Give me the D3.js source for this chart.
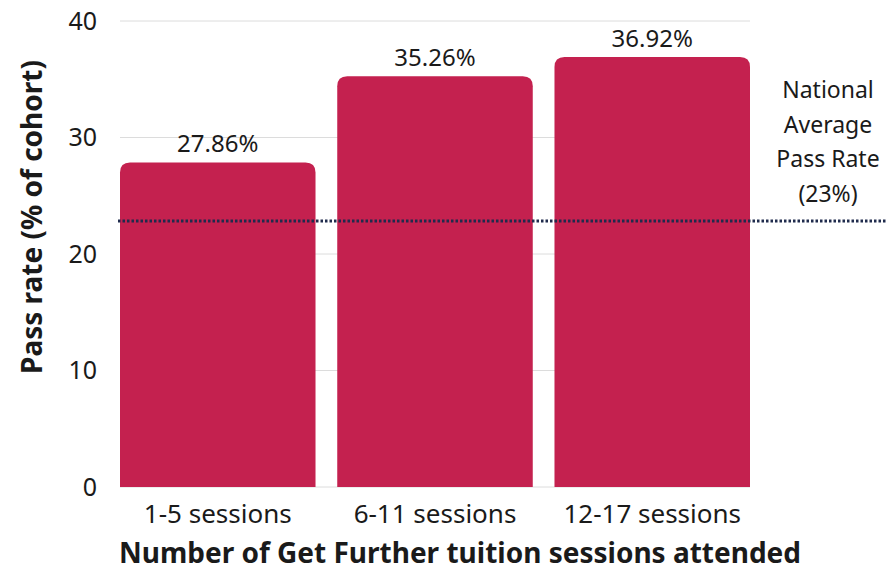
<!DOCTYPE html>
<html>
<head>
<meta charset="utf-8">
<script src="https://cdn.jsdelivr.net/npm/d3@7"></script>
<style>
  body { margin: 0; background: #fff; }
  text { font-family: "Noto Sans", "Open Sans", sans-serif; fill: #1a1a1a; }
</style>
</head>
<body>
<svg id="chart" width="886" height="576"></svg>
<script>
var categories = ['1-5 sessions', '6-11 sessions', '12-17 sessions'];
var passRates = [27.86, 35.26, 36.92];
var yTicks = [0, 10, 20, 30, 40];
var nationalAverage = 23;
var averageLabel = ['National', 'Average', 'Pass Rate', '(23%)'];

var svg = d3.select('#chart');
var margin = { top: 21, left: 120, plotRight: 750, bottom: 487 };

// scales
var x = d3.scaleBand()
    .domain(categories)
    .range([margin.left, margin.plotRight])
    .paddingInner(0.1)
    .paddingOuter(0);
var y = d3.scaleLinear()
    .domain([0, 40])
    .range([margin.bottom, margin.top]);

// gridlines
svg.append('g').selectAll('line')
    .data(yTicks)
    .enter().append('line')
    .attr('x1', margin.left)
    .attr('x2', margin.plotRight)
    .attr('y1', function (d) { return y(d); })
    .attr('y2', function (d) { return y(d); })
    .attr('stroke', '#dcdcdc')
    .attr('stroke-width', 1);

// y tick labels
svg.append('g').selectAll('text')
    .data(yTicks)
    .enter().append('text')
    .attr('x', 97)
    .attr('y', function (d) { return y(d); })
    .attr('dy', '0.35em')
    .attr('text-anchor', 'end')
    .style('font-size', '25px')
    .text(function (d) { return d; });

// bars with rounded tops
var r = 10;
function barPath(d, i) {
    var x0 = x(categories[i]), w = x.bandwidth();
    var top = y(d), bot = y(0);
    return 'M' + x0 + ',' + bot +
        'V' + (top + r) +
        'Q' + x0 + ',' + top + ',' + (x0 + r) + ',' + top +
        'H' + (x0 + w - r) +
        'Q' + (x0 + w) + ',' + top + ',' + (x0 + w) + ',' + (top + r) +
        'V' + bot + 'Z';
}
svg.append('g').selectAll('path')
    .data(passRates)
    .enter().append('path')
    .attr('d', barPath)
    .attr('fill', '#c4214f');

// value labels
svg.append('g').selectAll('text')
    .data(passRates)
    .enter().append('text')
    .attr('x', function (d, i) { return x(categories[i]) + x.bandwidth() / 2; })
    .attr('y', function (d) { return y(d) - 10; })
    .attr('text-anchor', 'middle')
    .style('font-size', '24px')
    .text(function (d) { return d.toFixed(2) + '%'; });

// national average line
svg.append('line')
    .attr('x1', margin.left - 2)
    .attr('x2', 886)
    .attr('y1', y(nationalAverage) + 2)
    .attr('y2', y(nationalAverage) + 2)
    .attr('stroke', '#1f2b4d')
    .attr('stroke-width', 3)
    .attr('stroke-dasharray', '2.5,2');

svg.append('text')
    .attr('text-anchor', 'middle')
    .style('font-size', '23px')
    .selectAll('tspan')
    .data(averageLabel)
    .enter().append('tspan')
    .attr('x', 828)
    .attr('y', function (d, i) { return 98 + i * 34.5; })
    .text(function (d) { return d; });

// x category labels
svg.append('g').selectAll('text')
    .data(categories)
    .enter().append('text')
    .attr('x', function (d) { return x(d) + x.bandwidth() / 2; })
    .attr('y', 523)
    .attr('text-anchor', 'middle')
    .style('font-size', '26px')
    .text(function (d) { return d; });

// axis titles
svg.append('text')
    .attr('x', 460)
    .attr('y', 563)
    .attr('text-anchor', 'middle')
    .style('font-size', '28px')
    .style('font-weight', 'bold')
    .text('Number of Get Further tuition sessions attended');

svg.append('text')
    .attr('transform', 'translate(42,' + 217 + ') rotate(-90)')
    .attr('text-anchor', 'middle')
    .style('font-size', '28px')
    .style('font-weight', 'bold')
    .text('Pass rate (% of cohort)');
</script>
</body>
</html>
